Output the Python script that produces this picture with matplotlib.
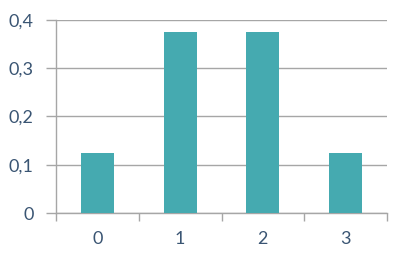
import numpy as np
import matplotlib
matplotlib.use("Agg")
import matplotlib.pyplot as plt
from matplotlib.ticker import FuncFormatter

categories = ["0", "1", "2", "3"]
probs = [0.125, 0.375, 0.375, 0.125]
y_ticks = [0, 0.1, 0.2, 0.3, 0.4]

bar_color = "#45aab0"
grid_color = "#a6a6a6"
text_color = "#3a5573"

fig = plt.figure(figsize=(4.0, 2.62), dpi=100)
ax = fig.add_axes([0.14, 0.187, 0.8275, 0.737])

x = np.arange(len(categories))
ax.bar(x, probs, width=0.4, color=bar_color, zorder=3)

ax.set_xlim(-0.5, len(categories) - 0.5)
ax.set_ylim(0, 0.4)
ax.set_yticks(y_ticks)
ax.yaxis.set_major_formatter(FuncFormatter(
    lambda v, _: "0" if v == 0 else f"{v:.1f}".replace(".", ",")))
ax.grid(axis="y", color=grid_color, lw=1.0, zorder=0)

# category labels centred, tick marks at category boundaries
ax.set_xticks(x)
ax.set_xticklabels(categories)
ax.set_xticks(np.arange(-0.5, len(categories)), minor=True)
ax.tick_params(axis="x", which="major", length=0, pad=13)
ax.tick_params(axis="x", which="minor", length=6, color=grid_color, width=1)
ax.tick_params(axis="y", length=7, color=grid_color, width=1, pad=9)
ax.tick_params(labelsize=13, labelcolor=text_color)
for lbl in ax.get_xticklabels() + ax.get_yticklabels():
    lbl.set_family(["Lato", "DejaVu Sans"])

for s in ("top", "right"):
    ax.spines[s].set_visible(False)
for s in ("left", "bottom"):
    ax.spines[s].set_color(grid_color)
    ax.spines[s].set_linewidth(1.0)

fig.savefig("out.png", dpi=100)
